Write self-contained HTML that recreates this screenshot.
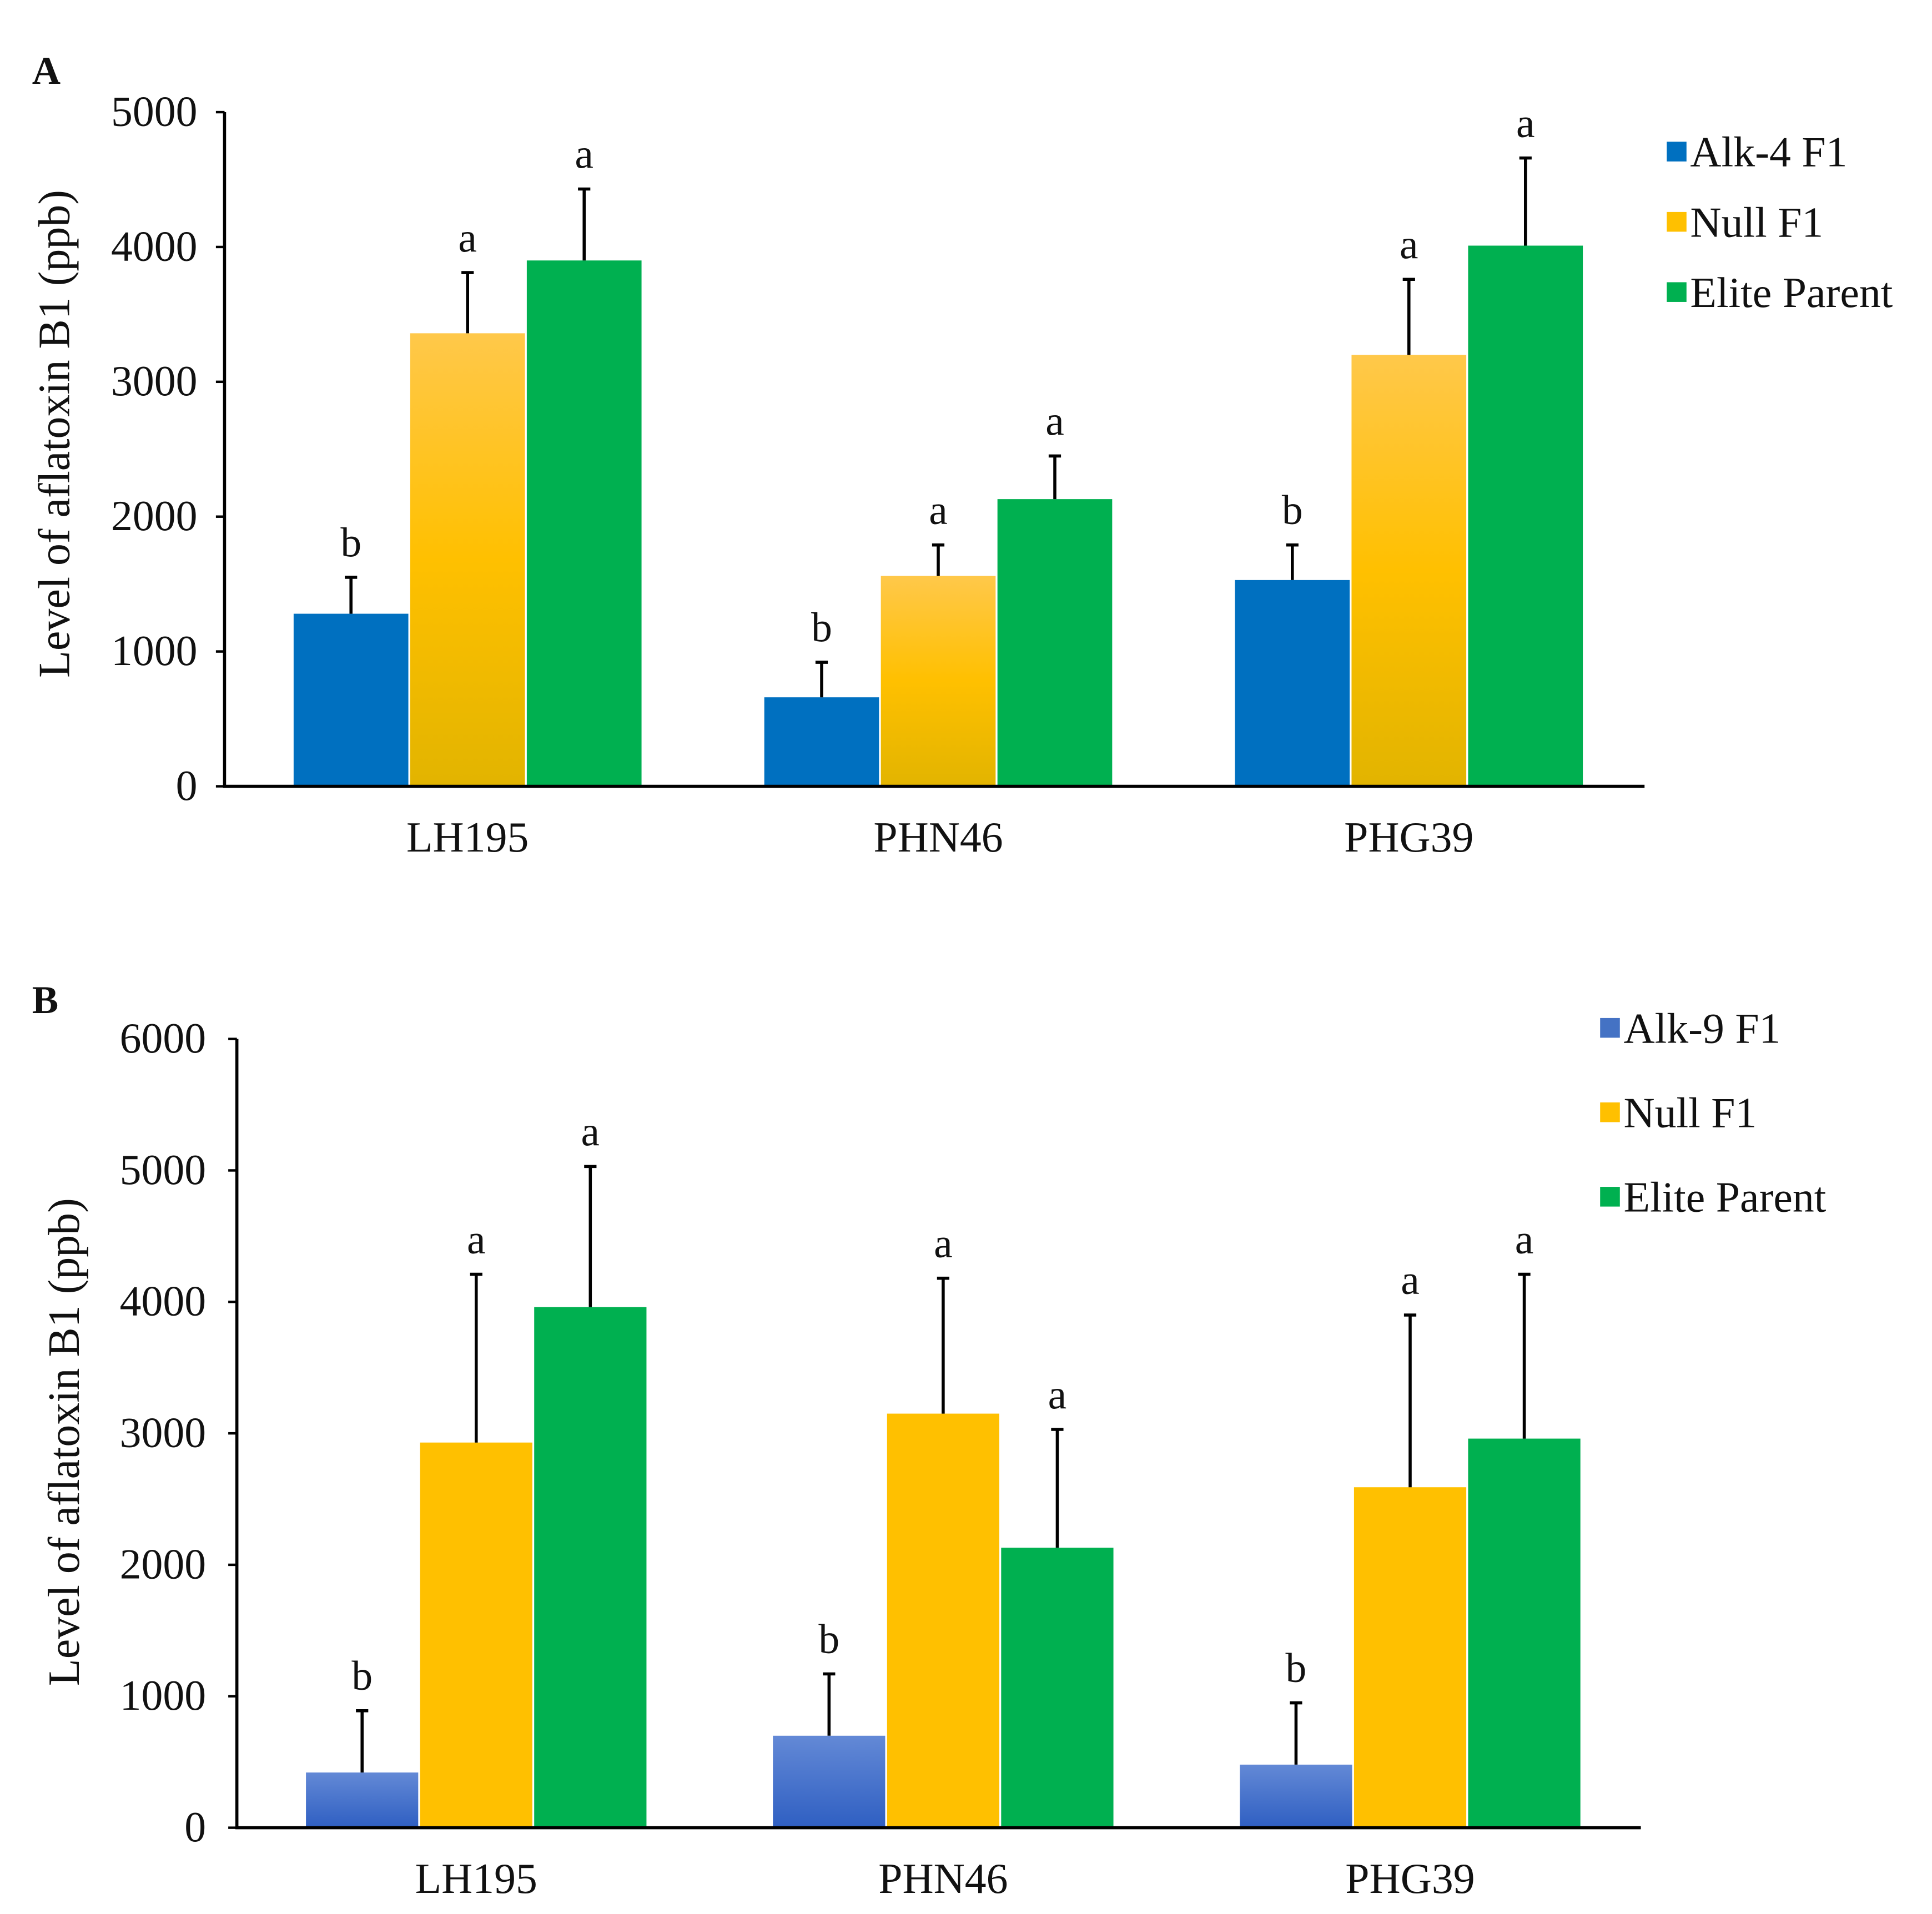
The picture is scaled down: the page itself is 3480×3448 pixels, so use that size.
<!DOCTYPE html>
<html><head><meta charset="utf-8"><style>
html,body{margin:0;padding:0;background:#fff}
svg{display:block}
text{font-family:"Liberation Serif",serif;fill:#111}
</style></head><body>
<svg id="fig" width="3480" height="3448" viewBox="0 0 1566 1553" preserveAspectRatio="none" xmlns="http://www.w3.org/2000/svg">
<defs>
<linearGradient id="yelA" x1="0" y1="0" x2="0" y2="1"><stop offset="0" stop-color="#FFC84A"/><stop offset="0.5" stop-color="#FFC000"/><stop offset="1" stop-color="#E2B400"/></linearGradient>
<linearGradient id="bluB" x1="0" y1="0" x2="0" y2="1"><stop offset="0" stop-color="#6389D6"/><stop offset="1" stop-color="#2F5FC2"/></linearGradient>
</defs>
<text x="26" y="68" font-size="32" font-weight="bold">A</text>
<text x="26" y="822" font-size="32" font-weight="bold">B</text>
</svg>
<script>
const categories = ["LH195","PHN46","PHG39"];
const seriesA = ["Alk-4 F1","Null F1","Elite Parent"];
const alkA = [1280,660,1530];
const nullA = [3360,1560,3200];
const eliteA = [3900,2130,4010];
const alkAErr = [270,260,260];
const nullAErr = [450,230,560];
const eliteAErr = [530,320,650];
const lettersA = [["b","b","b"],["a","a","a"],["a","a","a"]];
const ticksA = [0,1000,2000,3000,4000,5000];

const seriesB = ["Alk-9 F1","Null F1","Elite Parent"];
const alkB = [420,700,480];
const nullB = [2930,3150,2590];
const eliteB = [3960,2130,2960];
const alkBErr = [470,470,470];
const nullBErr = [1280,1030,1310];
const eliteBErr = [1070,900,1250];
const lettersB = [["b","b","b"],["a","a","a"],["a","a","a"]];
const ticksB = [0,1000,2000,3000,4000,5000,6000];

const NS="http://www.w3.org/2000/svg";
const svg=document.getElementById('fig');
function mk(tag,attrs,parent){const e=document.createElementNS(NS,tag);for(const k in attrs)e.setAttribute(k,attrs[k]);(parent||svg).appendChild(e);return e;}

function panel(cfg){
  const g=mk('g',{});
  
  
  const y=v=>cfg.y0-(v/cfg.max)*(cfg.y0-cfg.yTop);
  const series=[cfg.s0,cfg.s1,cfg.s2], errs=[cfg.e0,cfg.e1,cfg.e2];
  categories.forEach((c,i)=>{
    const cx=cfg.centers0+i*cfg.groupStep;
    series.forEach((vals,s)=>{
      const x=cx-1.5*cfg.bw+s*(cfg.bw+1.5)-1.5;
      const r=mk('rect',{x:x,y:y(vals[i]),width:cfg.bw,height:cfg.y0-y(vals[i]),fill:cfg.fills[s]},g);
      
      
      const xm=x+cfg.bw/2, top=y(vals[i]+errs[s][i]);
      const el=mk('path',{d:`M${xm},${y(vals[i])}V${top}M${xm-5},${top}H${xm+5}`,stroke:'#000','stroke-width':2.5,fill:'none'},g);
      
      
      const t=mk('text',{x:xm,y:top-17,'font-size':34,'text-anchor':'middle'},g);
      t.textContent=cfg.letters[s][i];
      
      
    });
    const lab=mk('text',{x:cx,y:cfg.y0+53,'font-size':35,'text-anchor':'middle'},g);
    lab.textContent=c;
    
    
  });
  const ax=mk('path',{d:`M${cfg.ax},${cfg.yTop}V${cfg.y0}H${cfg.axEnd}`,stroke:'#000','stroke-width':2.5,fill:'none'},g);
  
  
  cfg.ticks.forEach(v=>{
    mk('path',{d:`M${cfg.ax-7},${y(v)}H${cfg.ax}`,stroke:'#000','stroke-width':2},g);
    const t=mk('text',{x:cfg.ax-cfg.tickOff,y:y(v)+11,'font-size':35,'text-anchor':'end'},g);
    t.textContent=v;
    
    
  });
  const yt=mk('text',{x:0,y:0,'font-size':36,'text-anchor':'middle',transform:`translate(${cfg.titleX},${cfg.titleY}) rotate(-90)`},g);
  yt.textContent='Level of aflatoxin B1 (ppb)';
  
  
  cfg.names.forEach((n,s)=>{
    const ly=cfg.legY+s*cfg.legStep;
    const sq=mk('rect',{x:cfg.legX,y:ly-8,width:16,height:16,fill:cfg.legFills[s]},g);
    
    
    const t=mk('text',{x:cfg.legX+19,y:ly+12,'font-size':35},g);
    t.textContent=n;
    
    
  });
}
panel({name:'chart-a',s0:alkA,s1:nullA,s2:eliteA,e0:alkAErr,e1:nullAErr,e2:eliteAErr,letters:lettersA,ticks:ticksA,names:seriesA,
  max:5000,y0:638,yTop:91,ax:182,axEnd:1333,centers0:379,groupStep:381.5,bw:93,tickOff:22,
  fills:['#0070C0','url(#yelA)','#00B050'],legFills:['#0070C0','#FFC000','#00B050'],
  titleX:56,titleY:352,legX:1351,legY:123,legStep:57});
panel({name:'chart-b',s0:alkB,s1:nullB,s2:eliteB,e0:alkBErr,e1:nullBErr,e2:eliteBErr,letters:lettersB,ticks:ticksB,names:seriesB,
  max:6000,y0:1483,yTop:843,ax:192,axEnd:1330,centers0:386,groupStep:378.5,bw:91,tickOff:25,
  fills:['url(#bluB)','#FFC000','#00B050'],legFills:['#4472C4','#FFC000','#00B050'],
  titleX:64,titleY:1170,legX:1297,legY:834,legStep:68.5});
</script>
</body></html>
